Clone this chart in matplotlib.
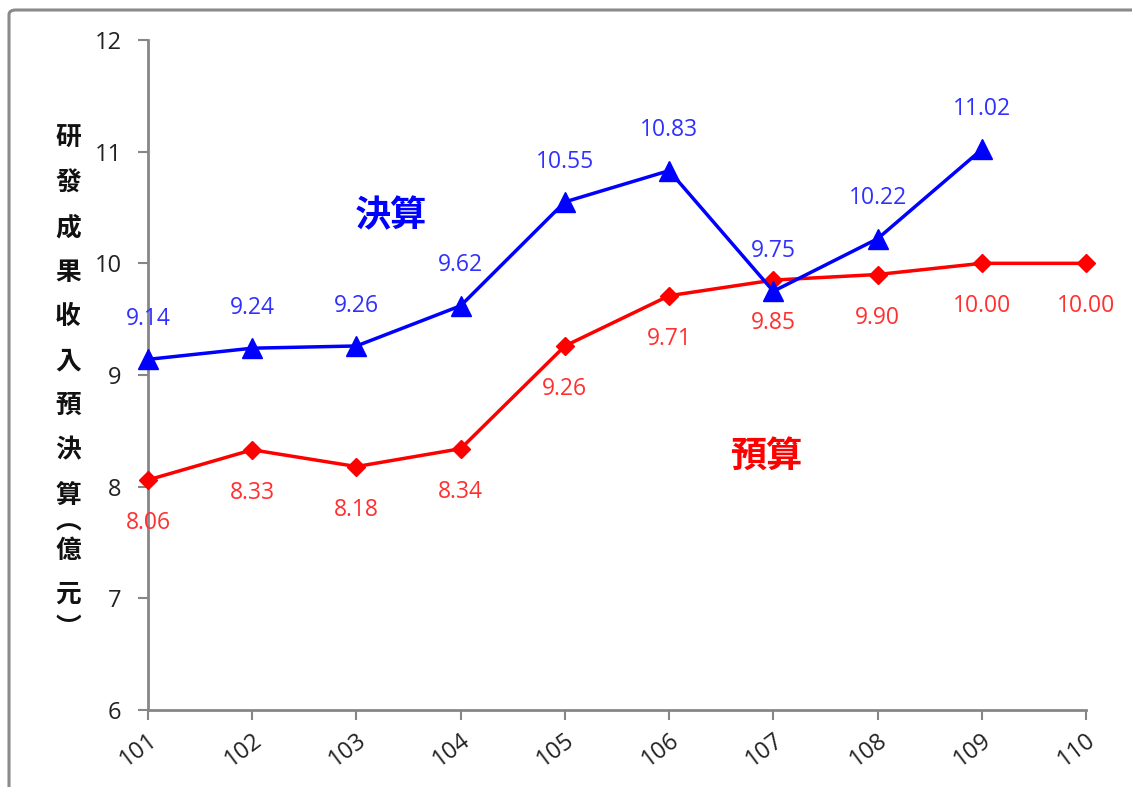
import matplotlib
matplotlib.use("Agg")
import matplotlib.pyplot as plt
from matplotlib.patches import FancyBboxPatch

plt.rcParams['font.family'] = ['Open Sans', 'Noto Sans CJK TC', 'DejaVu Sans']

years = ['101', '102', '103', '104', '105', '106', '107', '108', '109', '110']
actual = [9.14, 9.24, 9.26, 9.62, 10.55, 10.83, 9.75, 10.22, 11.02]
budget = [8.06, 8.33, 8.18, 8.34, 9.26, 9.71, 9.85, 9.90, 10.00, 10.00]
actual_labels = ['9.14', '9.24', '9.26', '9.62', '10.55', '10.83', '9.75', '10.22', '11.02']
budget_labels = ['8.06', '8.33', '8.18', '8.34', '9.26', '9.71', '9.85', '9.90', '10.00', '10.00']
ylabel_chars = ['研', '發', '成', '果', '收', '入', '預', '決', '算', '︵', '億', '元', '︶']

BLUE = '#0000ff'
RED = '#ff0000'
GRAY = '#868686'

fig = plt.figure(figsize=(11.32, 7.87), dpi=100)
ax = fig.add_axes([148/1132, 77/787, (1086-148)/1132, 670/787])

xa = list(range(len(actual)))
xb = list(range(len(budget)))
ax.plot(xb, budget, color=RED, lw=2.5, marker='D', ms=9, zorder=3, clip_on=False)
ax.plot(xa, actual, color=BLUE, lw=2.5, marker='^', ms=14, zorder=4, clip_on=False)

for x, v, s in zip(xa, actual, actual_labels):
    ax.annotate(s, (x, v), xytext=(0, 29), textcoords='offset points',
                ha='center', va='center', color='#3030ff', fontsize=16.5)
for x, v, s in zip(xb, budget, budget_labels):
    ax.annotate(s, (x, v), xytext=(0, -31), textcoords='offset points',
                ha='center', va='center', color='#ff3030', fontsize=16.5)

ax.set_xlim(0, len(years) - 1)
ax.set_ylim(6, 12)
ax.set_xticks(range(len(years)))
ax.set_xticklabels(years, rotation=37, ha='right', rotation_mode='anchor')
ax.set_yticks(range(6, 13))
ax.tick_params(axis='both', direction='out', length=7, width=1.5, color=GRAY,
               labelsize=17, labelcolor='#222222')
ax.tick_params(axis='y', pad=12)
ax.tick_params(axis='x', pad=6)
for side in ['top', 'right']:
    ax.spines[side].set_visible(False)
for side in ['left', 'bottom']:
    ax.spines[side].set_color(GRAY)
    ax.spines[side].set_linewidth(2)

ax.text(2.33, 10.43, '決算', color=BLUE, fontsize=26, fontweight='bold',
        ha='center', va='center', family=['Noto Sans CJK TC'])
ax.text(5.93, 8.27, '預算', color=RED, fontsize=26, fontweight='bold',
        ha='center', va='center', family=['Noto Sans CJK TC'])

# vertical y-axis label
ys = [138, 183, 228, 272, 316, 361, 405, 450, 495, 522, 551, 594, 628]
for ch, y in zip(ylabel_chars, ys):
    fig.text(68/1132, 1 - y/787, ch, ha='center', va='center', fontsize=18.5,
             fontweight='bold', color='#111111', family=['Noto Sans CJK TC'])

# outer rounded border (only top and left edges visible)
border = FancyBboxPatch((9/1132, -20/787), 1 + 20/1132, 1 + 10/787,
                        boxstyle='round,pad=0,rounding_size=0.006',
                        transform=fig.transFigure, fill=False,
                        edgecolor='#8a8a8a', lw=2.2)
fig.patches.append(border)

fig.savefig('out.png', dpi=100)
